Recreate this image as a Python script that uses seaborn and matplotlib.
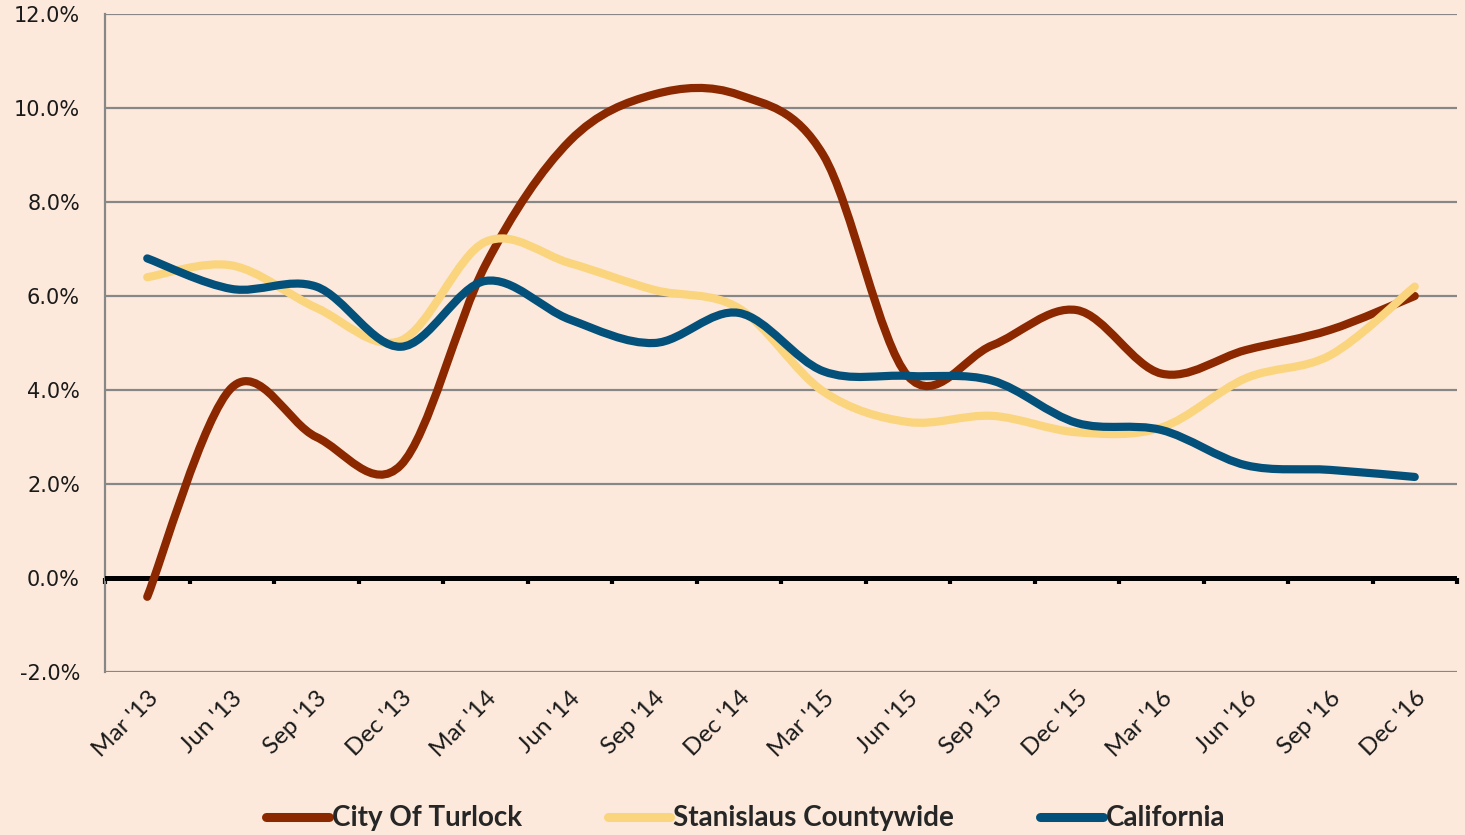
import numpy as np
import pandas as pd
import matplotlib
matplotlib.use("Agg")
import matplotlib.pyplot as plt
import seaborn as sns
from matplotlib.path import Path
from matplotlib.patches import PathPatch
from matplotlib.lines import Line2D
from matplotlib.ticker import FuncFormatter, MultipleLocator

# --- data (quarterly) ---
quarters = ["Mar '13", "Jun '13", "Sep '13", "Dec '13",
            "Mar '14", "Jun '14", "Sep '14", "Dec '14",
            "Mar '15", "Jun '15", "Sep '15", "Dec '15",
            "Mar '16", "Jun '16", "Sep '16", "Dec '16"]
turlock = [-0.4, 4.05, 3.0, 2.4, 6.65, 9.3, 10.29, 10.28,
           9.0, 4.3, 4.95, 5.7, 4.35, 4.85, 5.28, 6.0]
stanislaus = [6.4, 6.65, 5.75, 5.05, 7.15, 6.7, 6.13, 5.74,
              3.97, 3.32, 3.45, 3.1, 3.2, 4.25, 4.74, 6.2]
california = [6.8, 6.15, 6.2, 4.92, 6.32, 5.5, 5.0, 5.64,
              4.4, 4.3, 4.2, 3.3, 3.15, 2.4, 2.3, 2.15]
series_names = ["City Of Turlock", "Stanislaus Countywide", "California"]
colors = ["#8C2800", "#FBD47E", "#03507A"]

BG = "#FCE9DB"
GRID = "#878787"

df = pd.DataFrame({"quarter": quarters,
                   series_names[0]: turlock,
                   series_names[1]: stanislaus,
                   series_names[2]: california})
df["pos"] = np.arange(len(quarters))
long_df = df.melt(id_vars=["quarter", "pos"], var_name="area", value_name="rate")


def smoothed_path(x, y, k=1 / 6):
    """Excel-style smoothed line: cubic Bezier through each point."""
    pts = np.column_stack([np.asarray(x, float), np.asarray(y, float)])
    ext = np.vstack([pts[0], pts, pts[-1]])
    verts = [pts[0]]
    codes = [Path.MOVETO]
    for i in range(len(pts) - 1):
        p0, p1, p2, p3 = ext[i], ext[i + 1], ext[i + 2], ext[i + 3]
        verts += [p1 + (p2 - p0) * k, p2 - (p3 - p1) * k, p2]
        codes += [Path.CURVE4] * 3
    return Path(verts, codes)


sns.set_style("white", rc={"axes.facecolor": BG, "figure.facecolor": BG})
plt.rcParams["font.family"] = ["DejaVu Sans"]

fig = plt.figure(figsize=(14.65, 8.35), dpi=100)
fig.patch.set_facecolor(BG)
ax = fig.add_axes([105 / 1465, 1 - 672 / 835, (1457 - 105) / 1465, (672 - 14) / 835])
ax.set_facecolor(BG)

# smoothed series lines
for name, col in zip(series_names, colors):
    sub = long_df[long_df["area"] == name]
    patch = PathPatch(smoothed_path(sub["pos"], sub["rate"]), fill=False,
                      edgecolor=col, lw=5.9, capstyle="round",
                      joinstyle="round", zorder=5)
    ax.add_patch(patch)

ax.set_xlim(-0.5, len(quarters) - 0.5)
ax.set_ylim(-2, 12)
ax.yaxis.set_major_locator(MultipleLocator(2))
ax.yaxis.set_major_formatter(FuncFormatter(lambda v, p: f"{v:.1f}%"))
ax.set_xticks(df["pos"])
ax.set_xticklabels(quarters, rotation=45, ha="right", rotation_mode="anchor",
                   family="Lato", fontsize=17.5, color="#1a1a1a")
ax.tick_params(axis="x", length=0, pad=11)
ax.tick_params(axis="y", length=6, width=1.5, color=GRID, direction="out",
               pad=12, labelsize=15, labelcolor="#1a1a1a")

ax.yaxis.grid(True, color=GRID, lw=1.6, zorder=0)
ax.xaxis.grid(False)
for s in ["top", "right", "bottom"]:
    ax.spines[s].set_visible(False)
ax.spines["left"].set_color(GRID)
ax.spines["left"].set_linewidth(1.6)

# black zero line with category tick marks
ax.axhline(0, color="black", lw=3.6, zorder=3)
sec = ax.secondary_xaxis(2 / 14)
sec.set_xticks(np.arange(-0.5, len(quarters), 1.0))
sec.set_xticklabels([])
sec.spines["bottom"].set_visible(False)
sec.tick_params(axis="x", length=4, width=3, color="black", direction="out")

handles = [Line2D([], [], color=c, lw=6.5, solid_capstyle="round") for c in colors]
fig.legend(handles, series_names, loc="center", bbox_to_anchor=(0.509, 0.02),
           ncol=3, frameon=False, handlelength=2.25, handletextpad=0.1,
           columnspacing=3.1,
           prop={"family": "Lato", "weight": "bold", "size": 20})

fig.savefig("out.png", dpi=100, facecolor=BG)
